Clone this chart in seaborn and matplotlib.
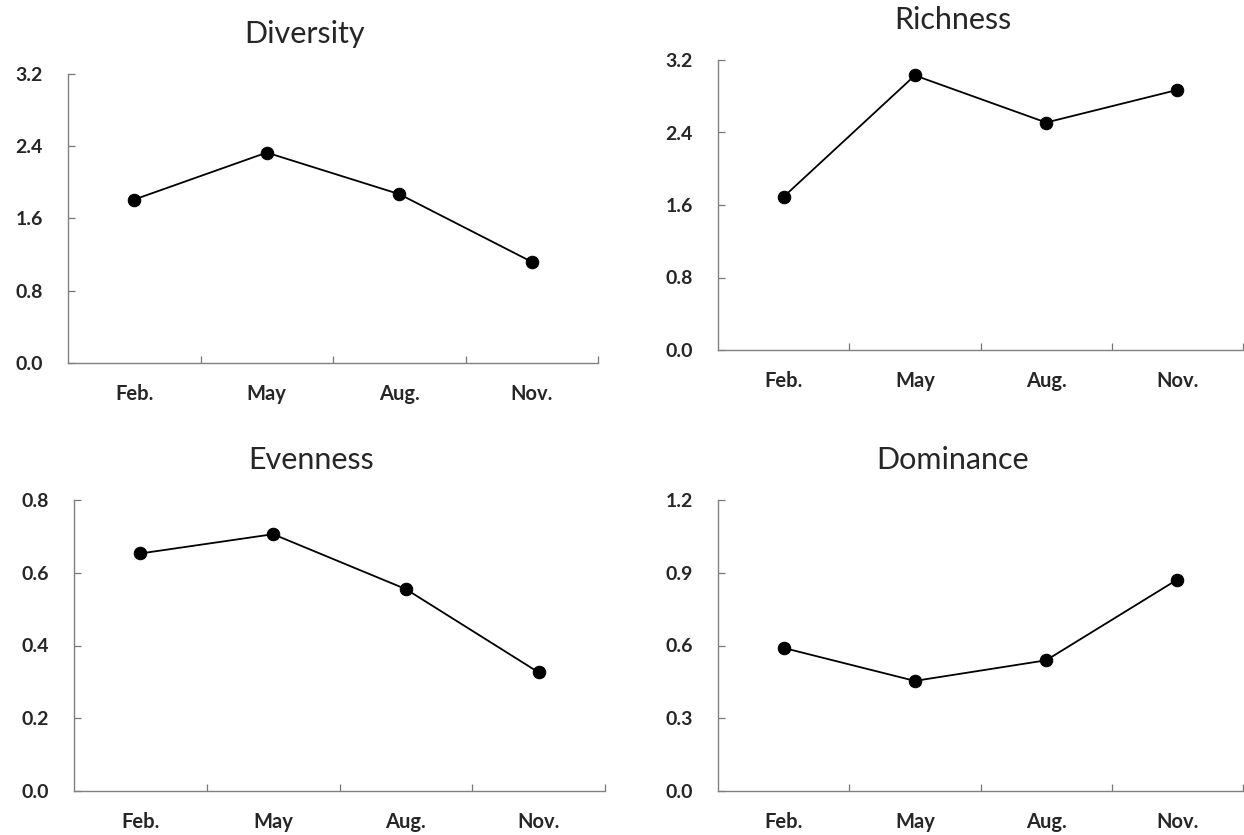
import pandas as pd
import numpy as np
import matplotlib
matplotlib.use('Agg')
import matplotlib.pyplot as plt
import seaborn as sns

# Data
months = ['Feb.', 'May', 'Aug.', 'Nov.']
diversity = [1.81, 2.33, 1.87, 1.12]
richness = [1.69, 3.03, 2.51, 2.87]
evenness = [0.653, 0.706, 0.555, 0.326]
dominance = [0.590, 0.454, 0.539, 0.872]

titles = ['Diversity', 'Richness', 'Evenness', 'Dominance']
y_ticks = [
    [0.0, 0.8, 1.6, 2.4, 3.2],
    [0.0, 0.8, 1.6, 2.4, 3.2],
    [0.0, 0.2, 0.4, 0.6, 0.8],
    [0.0, 0.3, 0.6, 0.9, 1.2],
]

sns.set_style('ticks')
plt.rcParams['font.family'] = ['Lato', 'DejaVu Sans']

W, H = 1244, 835
fig = plt.figure(figsize=(W / 100, H / 100), dpi=100)

# axes boxes in pixels: left, right, top, bottom
boxes = [
    (68, 598, 74, 363),
    (718, 1243, 60, 350),
    (74, 605, 500, 791),
    (718, 1243, 500, 791),
]

series = [diversity, richness, evenness, dominance]

for i, (l, r, t, b) in enumerate(boxes):
    ax = fig.add_axes([l / W, 1 - b / H, (r - l) / W, (b - t) / H])
    df = pd.DataFrame({'month': months, 'value': series[i]})
    sns.lineplot(data=df, x='month', y='value', ax=ax, sort=False,
                 color='black', linewidth=1.3, marker='o', markersize=9,
                 markeredgecolor='black')

    ax.set_xlim(-0.5, 3.5)
    ax.set_ylim(y_ticks[i][0], y_ticks[i][-1])
    ax.set_yticks(y_ticks[i])
    ax.set_yticklabels(['{:.1f}'.format(v) for v in y_ticks[i]],
                       fontsize=14, fontweight='bold')
    ax.set_xticks(range(len(months)))
    ax.set_xticklabels(months, fontsize=14.5, fontweight='bold')
    ax.set_xticks([0.5, 1.5, 2.5, 3.5], minor=True)
    ax.tick_params(axis='x', which='major', length=0, pad=15)
    ax.tick_params(axis='x', which='minor', direction='in', length=5,
                   width=0.9, color='#777777')
    ax.tick_params(axis='y', direction='in', length=5, width=0.9,
                   color='#777777', pad=18)
    ax.set_xlabel('')
    ax.set_ylabel('')

    sns.despine(ax=ax)
    for s in ['left', 'bottom']:
        ax.spines[s].set_color('#808080')
        ax.spines[s].set_linewidth(1.0)

    ax.text(0.447, 1 + 40 / (b - t), titles[i], transform=ax.transAxes,
            ha='center', va='center', fontsize=22)

fig.savefig('out.png', dpi=100)
